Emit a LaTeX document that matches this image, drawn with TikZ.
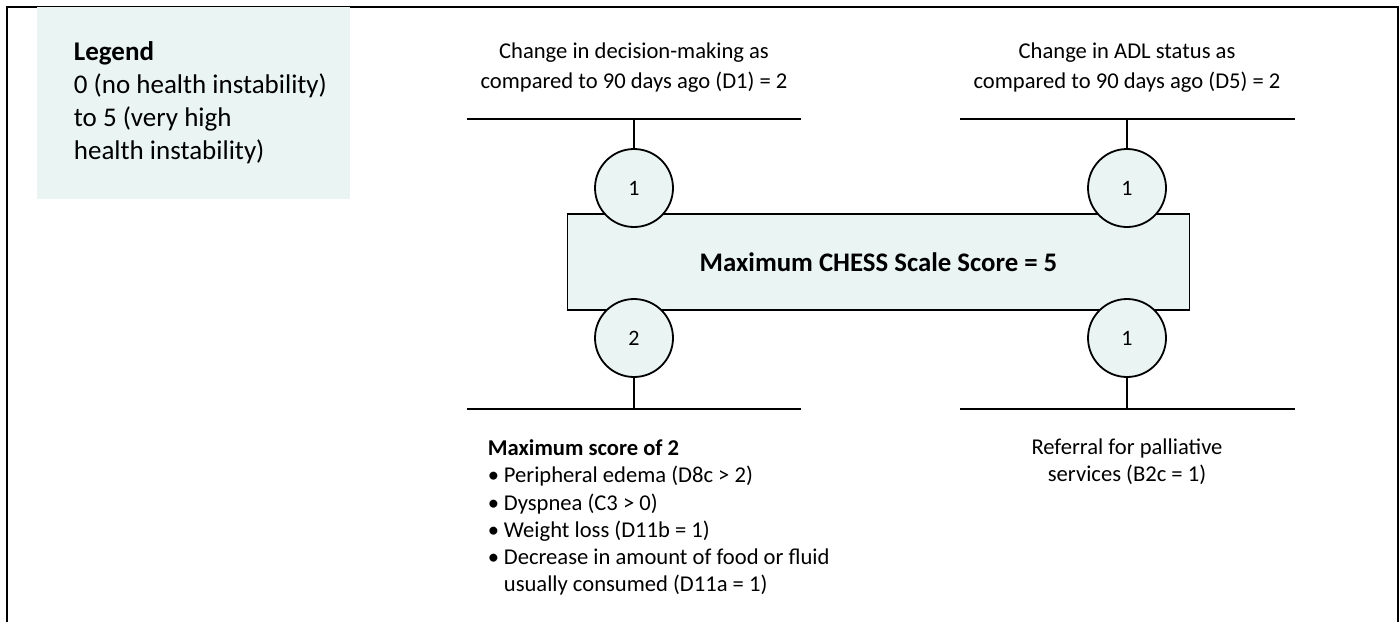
\documentclass[tikz,border=0pt]{standalone}
\usepackage{fontspec}
\setmainfont{Carlito}
\usepackage{xcolor}
\usepackage{tikz}
\definecolor{chessfill}{RGB}{233,244,243}

\newcommand{\itembullet}{\makebox[8pt][l]{\textbullet}}

\begin{document}
\begin{tikzpicture}[x=0.5pt,y=-0.5pt,line width=0.9pt,
	score node/.style={circle, draw, fill=chessfill, minimum size=39pt, inner sep=0pt, font=\fontsize{11}{13}\selectfont},
	scale box/.style={rectangle, draw, fill=chessfill, minimum width=311pt, minimum height=48pt, font=\fontsize{13.4}{16}\selectfont\bfseries},
	item text/.style={align=center, inner sep=0pt, font=\fontsize{11.3}{15}\selectfont}]
	\useasboundingbox (0,0) rectangle (1400,622);
	% Frame
	\draw (7,622) -- (7,7) -- (1398,7) -- (1398,622);
	
	% Legend
	\fill[chessfill] (37,7) rectangle (350,199);
	\node [anchor=north west, align=left, inner sep=0pt, font=\fontsize{13.5}{16.5}\selectfont] (legend) at (73,41)
	{\textbf{Legend}\\0 (no health instability)\\to 5 (very high\\health instability)};
	
	% Bars
	\coordinate (d1l) at (467,119);
	\coordinate (d1r) at (801,119);
	\coordinate (d5l) at (960,119);
	\coordinate (d5r) at (1295,119);
	\coordinate (d8l) at (467,409);
	\coordinate (d8r) at (801,409);
	\coordinate (b2l) at (960,409);
	\coordinate (b2r) at (1295,409);
	\draw (d1l) -- (d1r);
	\draw (d5l) -- (d5r);
	\draw (d8l) -- (d8r);
	\draw (b2l) -- (b2r);
	
	% Nodes
	\node [scale box] (chess) at (878.5,262) {Maximum CHESS Scale Score = 5};
	\node [score node] (d1) at (634,188) {1};
	\node [score node] (d5) at (1127,188) {1};
	\node [score node] (d8) at (634,338) {2};
	\node [score node] (b2) at (1127,338) {1};
	
	\draw (d1.north) -- (d1 |- d1l);
	\draw (d5.north) -- (d5 |- d5l);
	\draw (d8.south) -- (d8 |- d8l);
	\draw (b2.south) -- (b2 |- b2l);
	
	% Labels
	\node [item text] (d1txt) at (634,68) {Change in decision-making as\\compared to 90 days ago (D1) = 2};
	\node [item text] (d5txt) at (1127,68) {Change in ADL status as\\compared to 90 days ago (D5) = 2};
	\node [item text, font=\fontsize{11.3}{13.6}\selectfont] (b2txt) at (1127,462) {Referral for palliative\\services (B2c = 1)};
	\node [item text, align=left, anchor=north west, font=\fontsize{11.3}{13.6}\selectfont] (d8txt) at (487,439)
	{\textbf{Maximum score of 2}\\
	\itembullet Peripheral edema (D8c > 2)\\
	\itembullet Dyspnea (C3 > 0)\\
	\itembullet Weight loss (D11b = 1)\\
	\itembullet Decrease in amount of food or fluid\\
	\hphantom{\itembullet}usually consumed (D11a = 1)};
\end{tikzpicture}
\end{document}
